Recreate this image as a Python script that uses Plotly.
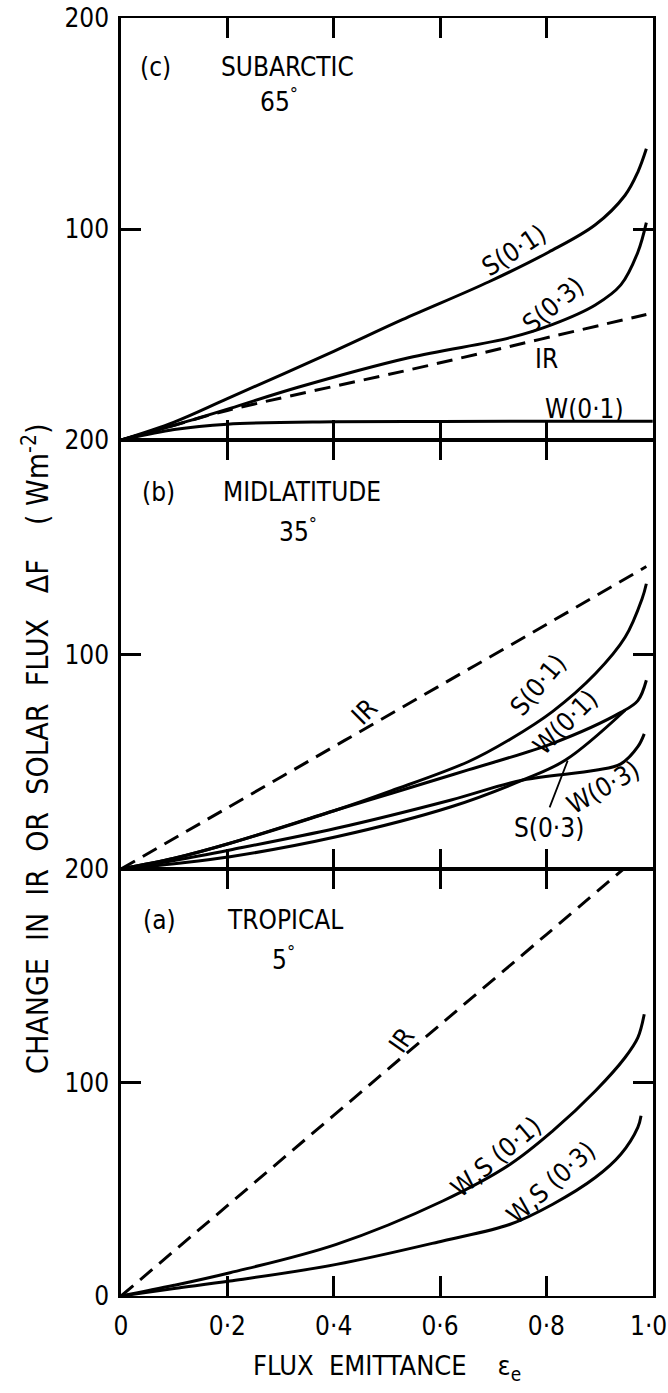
import plotly.graph_objects as go
from plotly.subplots import make_subplots

# ---------------- data ----------------
# Panel (c) SUBARCTIC 65°
c_s01_e = [0, 0.1, 0.2, 0.4, 0.529, 0.692, 0.804, 0.892, 0.948, 0.972, 0.988]
c_s01_v = [0, 8.5, 19.6, 42, 57, 75, 89, 102, 116, 127, 138]
c_s03_e = [0, 0.1, 0.205, 0.333, 0.541, 0.732, 0.812, 0.892, 0.94, 0.972, 0.988]
c_s03_v = [0, 7, 15, 25, 39, 48.5, 54.8, 64, 73.5, 89, 103]
c_ir_e = [0, 0.1, 0.2, 0.573, 0.788, 0.988]
c_ir_v = [0, 7, 14, 35, 47.7, 59.5]
c_w01_e = [0, 0.1, 0.2, 0.4, 0.6, 0.8, 1.0]
c_w01_v = [0, 5, 7.5, 8.6, 8.8, 8.9, 8.9]

# Panel (b) MIDLATITUDE 35°
b_ir_e = [0, 0.2, 0.4, 0.6, 0.8, 0.988]
b_ir_v = [0, 28.5, 57, 85.5, 114, 141]
b_s01_e = [0, 0.1, 0.205, 0.405, 0.509, 0.653, 0.732, 0.812, 0.892, 0.948, 0.98, 0.988]
b_s01_v = [0, 5, 12, 27.5, 36.5, 50, 60.5, 73.5, 91, 108, 126, 133]
b_w01_e = [0, 0.1, 0.205, 0.405, 0.509, 0.653, 0.812, 0.94, 0.972, 0.988]
b_w01_v = [0, 5, 12, 27.5, 35.3, 46.2, 58.6, 73, 78.5, 88]
b_s03_e = [0, 0.1, 0.205, 0.405, 0.621, 0.756, 0.836, 0.948]
b_s03_v = [0, 2.5, 5.7, 15, 29, 41.5, 50.8, 74]
b_w03_e = [0, 0.1, 0.205, 0.405, 0.621, 0.756, 0.892, 0.94, 0.972, 0.984]
b_w03_v = [0, 4, 8.9, 19, 32.2, 41.5, 46, 49, 57, 63]

# Panel (a) TROPICAL 5°
a_ir_e = [0, 0.2, 0.4, 0.6, 0.8, 0.945]
a_ir_v = [0, 42.3, 84.6, 127, 169.3, 200]
a_ws01_e = [0, 0.1, 0.205, 0.405, 0.605, 0.732, 0.812, 0.892, 0.948, 0.972, 0.984]
a_ws01_v = [0, 5, 10.9, 24.2, 44.5, 61.7, 77.3, 96, 111.7, 121, 132]
a_ws03_e = [0, 0.1, 0.205, 0.405, 0.605, 0.732, 0.812, 0.892, 0.94, 0.972, 0.978]
a_ws03_v = [0, 3.5, 7, 14.8, 25.8, 33.6, 43, 55.5, 66.4, 79, 84.4]

x_tickvals = [0, 0.2, 0.4, 0.6, 0.8, 1.0]
x_ticktext = ["0", "0·2", "0·4", "0·6", "0·8", ""]
x_last_label = "1·0"
y_tickvals = [0, 100, 200]
y_ticktext_top = ["", "100", "200"]
y_ticktext_bottom = ["0", "100", "200"]

FONT = "DejaVu Sans Condensed, Liberation Sans Narrow, Arial Narrow, sans-serif"
LW = 3
DASH = "16px,9px"
TXT = 26

fig = make_subplots(rows=3, cols=1, shared_xaxes=True, vertical_spacing=0)

def add(e, v, row, dashed=False):
    fig.add_trace(go.Scatter(x=e, y=v, mode="lines", line_shape="spline",
                             line=dict(color="black", width=LW, dash=DASH if dashed else "solid"),
                             showlegend=False, hoverinfo="skip", cliponaxis=True), row=row, col=1)

# panel c (row 1)
add(c_s01_e, c_s01_v, 1)
add(c_s03_e, c_s03_v, 1)
add(c_ir_e, c_ir_v, 1, dashed=True)
add(c_w01_e, c_w01_v, 1)
# panel b (row 2)
add(b_ir_e, b_ir_v, 2, dashed=True)
add(b_s01_e, b_s01_v, 2)
add(b_w01_e, b_w01_v, 2)
add(b_s03_e, b_s03_v, 2)
add(b_w03_e, b_w03_v, 2)
# panel a (row 3)
add(a_ir_e, a_ir_v, 3, dashed=True)
add(a_ws01_e, a_ws01_v, 3)
add(a_ws03_e, a_ws03_v, 3)

domains = {1: [0.669797, 1.0], 2: [0.334116, 0.669797], 3: [0.0, 0.334116]}
for r in (1, 2, 3):
    xa = "xaxis" if r == 1 else f"xaxis{r}"
    ya = "yaxis" if r == 1 else f"yaxis{r}"
    fig.layout[xa].update(range=[0, 1.0005], tickvals=x_tickvals, ticktext=x_ticktext,
                          ticks="inside", ticklen=20, tickwidth=2.5, tickcolor="black",
                          showline=True, linewidth=2.2, linecolor="black", mirror="ticks",
                          showgrid=False, zeroline=False, showticklabels=(r == 3),
                          ticklabelstandoff=6, automargin=False,
                          tickfont=dict(family=FONT, size=TXT, color="black"))
    fig.layout[ya].update(range=[0, 200], domain=domains[r], tickvals=y_tickvals,
                          ticktext=(y_ticktext_bottom if r == 3 else y_ticktext_top),
                          ticks="inside", ticklen=20, tickwidth=2.5, tickcolor="black",
                          showline=True, linewidth=2.5, linecolor="black", mirror="ticks",
                          showgrid=False, zeroline=False, ticklabelstandoff=4, automargin=False,
                          tickfont=dict(family=FONT, size=TXT, color="black"))

# last x tick label kept inside the page
fig.add_annotation(text=x_last_label, x=1.0, y=-0.0235, xref="x3", yref="paper",
                   showarrow=False, xanchor="center", yanchor="middle", xshift=-4,
                   font=dict(family=FONT, size=TXT, color="black"))

def note(text, x, y, row, angle=0, size=TXT):
    xr = "x" if row == 1 else f"x{row}"
    yr = "y" if row == 1 else f"y{row}"
    fig.add_annotation(text=text, x=x, y=y, xref=xr, yref=yr, showarrow=False,
                       textangle=angle, font=dict(family=FONT, size=size, color="black"),
                       xanchor="center", yanchor="middle")

# panel c labels
note("(c)", 0.064, 176.8, 1)
note("SUBARCTIC", 0.314, 176.8, 1)
note("65<sup>°</sup>", 0.297, 161, 1)
note("S(0·1)", 0.74, 90, 1, angle=-33)
note("S(0·3)", 0.812, 64, 1, angle=-40)
note("IR", 0.80, 38.4, 1)
note("W(0·1)", 0.872, 14.7, 1)
# panel b labels
note("(b)", 0.07, 175.8, 2)
note("MIDLATITUDE", 0.34, 175.8, 2)
note("35<sup>°</sup>", 0.333, 158, 2)
note("IR", 0.457, 73.2, 2, angle=-45)
note("S(0·1)", 0.784, 85.8, 2, angle=-50)
note("W(0·1)", 0.836, 68.5, 2, angle=-45)
note("W(0·3)", 0.908, 38.2, 2, angle=-30)
note("S(0·3)", 0.805, 19.1, 2)
fig.add_annotation(x=0.84, y=50.5, xref="x2", yref="y2", ax=0.805, ay=28, axref="x2", ayref="y2",
                   showarrow=True, arrowhead=0, arrowwidth=1.8, arrowcolor="black", text="")
# panel a labels
note("(a)", 0.073, 176.1, 3)
note("TROPICAL", 0.308, 176.1, 3)
note("5<sup>°</sup>", 0.305, 158.3, 3)
note("IR", 0.528, 119.9, 3, angle=-55)
note("W,S (0·1)", 0.705, 65.1, 3, angle=-40)
note("W,S (0·3)", 0.808, 52.9, 3, angle=-42)

# axis titles
fig.add_annotation(text="CHANGE  IN  IR  OR  SOLAR  FLUX   ΔF    ( Wm<sup>-2</sup>)", x=-0.16, y=0.428,
                   xref="paper", yref="paper", showarrow=False, textangle=-90,
                   font=dict(family=FONT, size=30, color="black"), xanchor="center", yanchor="middle")
fig.add_annotation(text="FLUX  EMITTANCE    ε<sub>e</sub>", x=0.5, y=-0.056,
                   xref="paper", yref="paper", showarrow=False,
                   font=dict(family=FONT, size=27, color="black"), xanchor="center", yanchor="middle")

fig.update_layout(width=668, height=1393, margin=dict(l=121, r=15, t=18, b=97, autoexpand=False),
                  plot_bgcolor="white", paper_bgcolor="white")

fig.write_html("out.html")
